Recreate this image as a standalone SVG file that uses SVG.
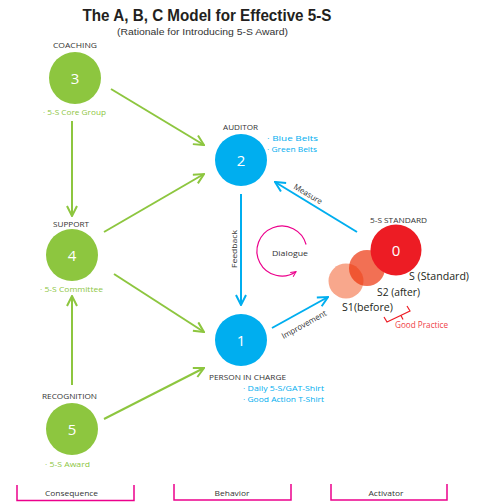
<svg xmlns="http://www.w3.org/2000/svg" width="483" height="502" viewBox="0 0 483 502">
<style>
text{font-family:"Open Sans","Noto Sans","Liberation Sans",sans-serif;}
.lab{font-size:8px;fill:#333333;}
.num{font-size:15px;fill:#ffffff;text-anchor:middle;}
.gtx{font-size:8px;fill:#8dc63f;}
.btx{font-size:8px;fill:#00aeef;}
.big{font-size:11px;fill:#231f20;}
.g{stroke:#8dc63f;stroke-width:2;fill:none;marker-end:url(#ag);}
.b{stroke:#00aeef;stroke-width:2;fill:none;marker-end:url(#ab);}
.br{stroke:#ec008c;stroke-width:1.5;fill:none;}
.gc{fill:#8dc63f;}
.bc{fill:#00aeef;}
</style>
<defs>
<marker id="ag" viewBox="0 0 12 12" refX="11" refY="6" markerWidth="12" markerHeight="12" markerUnits="userSpaceOnUse" orient="auto">
<path d="M1,1 L11,6 L1,11" fill="none" stroke="#8dc63f" stroke-width="2"/>
</marker>
<marker id="ab" viewBox="0 0 12 12" refX="11" refY="6" markerWidth="12" markerHeight="12" markerUnits="userSpaceOnUse" orient="auto">
<path d="M1,1 L11,6 L1,11" fill="none" stroke="#00aeef" stroke-width="2"/>
</marker>
<marker id="am" viewBox="0 0 8 8" refX="7" refY="4" markerWidth="7" markerHeight="7" markerUnits="userSpaceOnUse" orient="auto">
<path d="M1,1 L7,4 L1,7" fill="none" stroke="#ec008c" stroke-width="1.2"/>
</marker>
</defs>
<rect width="483" height="502" fill="#ffffff"/>

<g id="title">
<text x="207" y="21" text-anchor="middle" font-size="17" font-weight="bold" fill="#231f20" style="font-family:'Liberation Sans',Arial,sans-serif" textLength="249" lengthAdjust="spacingAndGlyphs">The A, B, C Model for Effective 5-S</text>
<text x="202.5" y="34.5" text-anchor="middle" font-size="9.5" fill="#333333" style="font-family:'Liberation Sans',Arial,sans-serif" textLength="171" lengthAdjust="spacingAndGlyphs">(Rationale for Introducing 5-S Award)</text>
</g>

<g id="connectors">
<line class="g" x1="72" y1="121" x2="72" y2="216"/>
<line class="g" x1="72" y1="385" x2="72" y2="296"/>
<line class="g" x1="111" y1="89" x2="204" y2="145"/>
<line class="g" x1="104" y1="232" x2="204" y2="174"/>
<line class="g" x1="114" y1="274" x2="204" y2="332"/>
<line class="g" x1="104" y1="419" x2="204" y2="368"/>
<line class="b" x1="241" y1="194" x2="241" y2="305"/>
<line class="b" x1="357" y1="232" x2="275" y2="182"/>
<line class="b" x1="272" y1="328" x2="328" y2="297"/>
<path d="M306.1,244.5 A25,25 0 1 0 296,271.7" fill="none" stroke="#ec008c" stroke-width="1.2" marker-end="url(#am)"/>
<text class="lab" transform="translate(236.8,249) rotate(-90)" text-anchor="middle" textLength="38" lengthAdjust="spacingAndGlyphs">Feedback</text>
<text class="lab" transform="translate(306.6,196.4) rotate(31)" text-anchor="middle" textLength="32" lengthAdjust="spacingAndGlyphs">Measure</text>
<text class="lab" transform="translate(305.4,327) rotate(-29)" text-anchor="middle" textLength="50" lengthAdjust="spacingAndGlyphs">Improvement</text>
<text class="lab" x="290" y="256" text-anchor="middle" textLength="36" lengthAdjust="spacingAndGlyphs">Dialogue</text>
</g>

<g id="node3">
<text class="lab" x="75" y="48" text-anchor="middle" textLength="44" lengthAdjust="spacingAndGlyphs">COACHING</text>
<circle class="gc" cx="75" cy="78" r="26"/>
<text class="num" x="75" y="83.5">3</text>
<text class="gtx" x="43" y="115" textLength="63" lengthAdjust="spacingAndGlyphs">· 5-S Core Group</text>
</g>

<g id="node4">
<text class="lab" x="71" y="227" text-anchor="middle" textLength="36" lengthAdjust="spacingAndGlyphs">SUPPORT</text>
<circle class="gc" cx="72" cy="255" r="26"/>
<text class="num" x="72" y="260.5">4</text>
<text class="gtx" x="40" y="292" textLength="63" lengthAdjust="spacingAndGlyphs">· 5-S Committee</text>
</g>

<g id="node5">
<text class="lab" x="69.5" y="399" text-anchor="middle" textLength="55" lengthAdjust="spacingAndGlyphs">RECOGNITION</text>
<circle class="gc" cx="72" cy="429" r="26"/>
<text class="num" x="72" y="434.5">5</text>
<text class="gtx" x="45" y="467" textLength="45" lengthAdjust="spacingAndGlyphs">· 5-S Award</text>
</g>

<g id="node2">
<text class="lab" x="240.5" y="130" text-anchor="middle" textLength="35" lengthAdjust="spacingAndGlyphs">AUDITOR</text>
<circle class="bc" cx="241" cy="160" r="26"/>
<text class="num" x="241" y="165.5">2</text>
<text class="btx" x="267" y="141" textLength="51" lengthAdjust="spacingAndGlyphs">· Blue Belts</text>
<text class="btx" x="267" y="152" textLength="50" lengthAdjust="spacingAndGlyphs">· Green  Belts</text>
</g>

<g id="node1">
<circle class="bc" cx="241" cy="340" r="26"/>
<text class="num" x="241" y="345.5">1</text>
<text class="lab" x="209" y="380" textLength="77" lengthAdjust="spacingAndGlyphs">PERSON IN CHARGE</text>
<text class="btx" x="243" y="391" textLength="81" lengthAdjust="spacingAndGlyphs">· Daily 5-S/GAT-Shirt</text>
<text class="btx" x="243" y="402" textLength="81" lengthAdjust="spacingAndGlyphs">· Good Action T-Shirt</text>
</g>

<g id="node0">
<text class="lab" x="398.5" y="223" text-anchor="middle" textLength="57" lengthAdjust="spacingAndGlyphs">5-S STANDARD</text>
<circle cx="346" cy="281" r="17.5" fill="#f8a78c"/>
<circle cx="367" cy="268" r="18" fill="#ec330c" fill-opacity="0.7"/>
<circle cx="396" cy="250" r="25.5" fill="#ed1c24"/>
<text class="num" x="396" y="255.5">0</text>
<text class="big" x="409" y="280" textLength="60" lengthAdjust="spacingAndGlyphs">S (Standard)</text>
<text class="big" x="377" y="296" textLength="43" lengthAdjust="spacingAndGlyphs">S2 (after)</text>
<text class="big" x="342" y="311" textLength="51" lengthAdjust="spacingAndGlyphs">S1(before)</text>
<path d="M384,317 L387,322 L410,311 L407,306 M401,315.5 L403,319.5" fill="none" stroke="#ed1c24" stroke-width="1.2"/>
<text x="395" y="328" font-size="8.5" fill="#ef4046" textLength="53" lengthAdjust="spacingAndGlyphs">Good Practice</text>
</g>

<g id="legend">
<path class="br" d="M17,485 V500.5 H134 V485"/>
<text class="lab" x="71.5" y="496" text-anchor="middle" textLength="53" lengthAdjust="spacingAndGlyphs">Consequence</text>
<path class="br" d="M174,484 V500 H291 V484"/>
<text class="lab" x="232" y="496" text-anchor="middle" textLength="35" lengthAdjust="spacingAndGlyphs">Behavior</text>
<path class="br" d="M331,484 V500 H447 V484"/>
<text class="lab" x="386" y="496" text-anchor="middle" textLength="35" lengthAdjust="spacingAndGlyphs">Activator</text>
</g>
</svg>
